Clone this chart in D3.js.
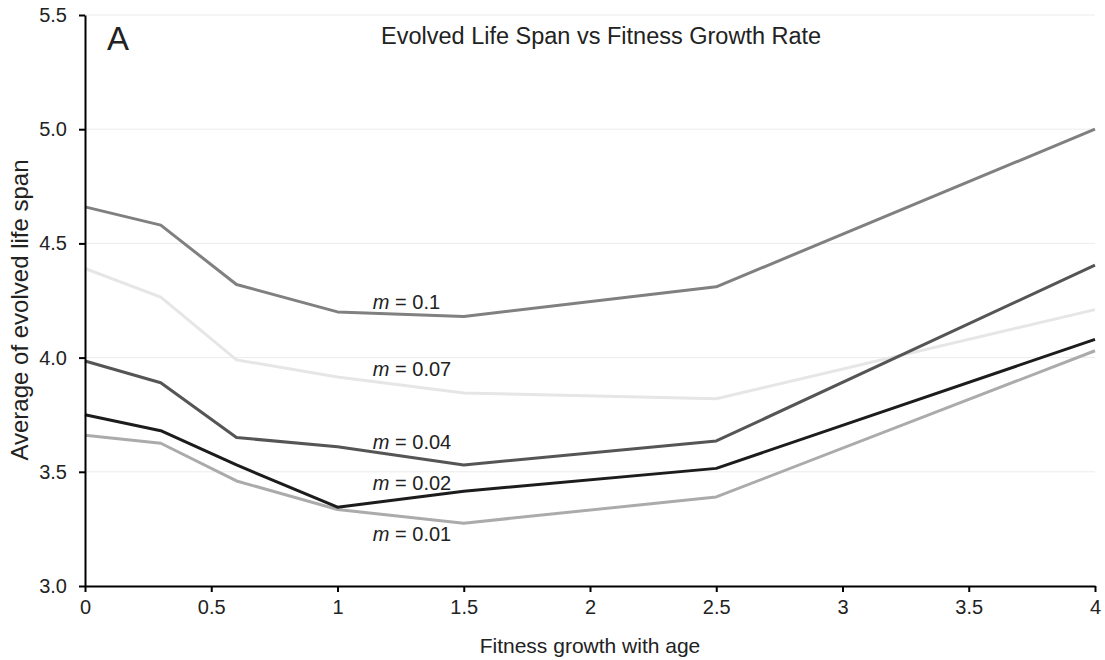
<!DOCTYPE html>
<html>
<head>
<meta charset="utf-8">
<script src="https://cdn.jsdelivr.net/npm/d3@7"></script>
<style>
  body { margin: 0; background: #fff; }
  svg { display: block; font-family: "Liberation Sans", Arial, sans-serif; }
  .grid line { stroke: #ececec; stroke-width: 1; }
  .axis path, .axis line { stroke: #000; stroke-width: 2; }
  .axis text { fill: #222; font-size: 20px; }
</style>
</head>
<body>
<svg id="chart"></svg>
<script>
let width = 1105,
    height = 660;

let margin = {top: 15, right: 10, bottom: 74, left: 85};

// fitness growth rate (x) values
let growth = [0, 0.3, 0.6, 1, 1.5, 2.5, 4];

// mortality series names
let seriesNames = ['m = 0.1', 'm = 0.07', 'm = 0.04', 'm = 0.02', 'm = 0.01'];

// average evolved life span per series
let span01  = [4.66, 4.58, 4.32, 4.20, 4.18, 4.31, 5.00];
let span007 = [4.39, 4.265, 3.99, 3.915, 3.845, 3.82, 4.21];
let span004 = [3.985, 3.89, 3.65, 3.61, 3.53, 3.635, 4.405];
let span002 = [3.75, 3.68, 3.53, 3.345, 3.415, 3.515, 4.08];
let span001 = [3.66, 3.625, 3.46, 3.335, 3.275, 3.39, 4.03];

let xTicks = [0, 0.5, 1, 1.5, 2, 2.5, 3, 3.5, 4];
let yTicks = [3.0, 3.5, 4.0, 4.5, 5.0, 5.5];

// where each series label sits, in data units [x, y]
let labelAt = [[1.14, 4.213], [1.14, 3.919], [1.14, 3.60], [1.14, 3.42], [1.14, 3.197]];

let colors = ['#808080', '#e6e6e6', '#555555', '#1c1c1c', '#ababab'];

let series = [span01, span007, span004, span002, span001].map((vals, i) => ({
    name: seriesNames[i],
    values: vals.map((v, j) => ({x: growth[j], y: v}))
}));

let svg = d3.select('svg#chart')
    .attr('width', width)
    .attr('height', height);

let x = d3.scaleLinear()
    .domain([0, 4])
    .range([margin.left, width - margin.right]);

let y = d3.scaleLinear()
    .domain([3, 5.5])
    .range([height - margin.bottom, margin.top]);

// horizontal gridlines
svg.append('g')
    .attr('class', 'grid')
    .selectAll('line')
    .data(yTicks.filter(d => d > 3))
    .join('line')
    .attr('x1', x(0))
    .attr('x2', x(4))
    .attr('y1', d => y(d))
    .attr('y2', d => y(d));

let line = d3.line()
    .x(d => x(d.x))
    .y(d => y(d.y));

// draw light series first so dark ones sit on top
let order = [1, 4, 0, 2, 3];
svg.append('g')
    .selectAll('path')
    .data(order.map(i => series[i]))
    .join('path')
    .attr('fill', 'none')
    .attr('stroke', d => colors[seriesNames.indexOf(d.name)])
    .attr('stroke-width', 3)
    .attr('stroke-linejoin', 'round')
    .attr('d', d => line(d.values));

// axes
svg.append('g')
    .attr('class', 'axis')
    .attr('transform', `translate(0,${height - margin.bottom})`)
    .call(d3.axisBottom(x).tickValues(xTicks).tickFormat(d => String(d))
        .tickSize(6).tickSizeOuter(0).tickPadding(8));

svg.append('g')
    .attr('class', 'axis')
    .attr('transform', `translate(${margin.left},0)`)
    .call(d3.axisLeft(y).tickValues(yTicks).tickFormat(d3.format('.1f'))
        .tickSize(6).tickSizeOuter(0).tickPadding(12));

// series labels: italic m, plain rest
let labels = svg.append('g')
    .selectAll('text')
    .data(seriesNames)
    .join('text')
    .attr('x', (d, i) => x(labelAt[i][0]))
    .attr('y', (d, i) => y(labelAt[i][1]))
    .attr('font-size', 20)
    .attr('fill', '#222');
labels.append('tspan').attr('font-style', 'italic').text('m');
labels.append('tspan').text(d => d.slice(1));

// title and panel letter
svg.append('text')
    .attr('x', 381)
    .attr('y', 44)
    .attr('font-size', 23.5)
    .attr('fill', '#222')
    .text('Evolved Life Span vs Fitness Growth Rate');

svg.append('text')
    .attr('x', 107)
    .attr('y', 50)
    .attr('font-size', 33)
    .attr('fill', '#222')
    .text('A');

// axis titles
svg.append('text')
    .attr('x', (x(0) + x(4)) / 2)
    .attr('y', 653)
    .attr('text-anchor', 'middle')
    .attr('font-size', 21)
    .attr('fill', '#222')
    .text('Fitness growth with age');

svg.append('text')
    .attr('transform', `translate(28,310) rotate(-90)`)
    .attr('text-anchor', 'middle')
    .attr('font-size', 24)
    .attr('fill', '#222')
    .text('Average of evolved life span');
</script>
</body>
</html>
